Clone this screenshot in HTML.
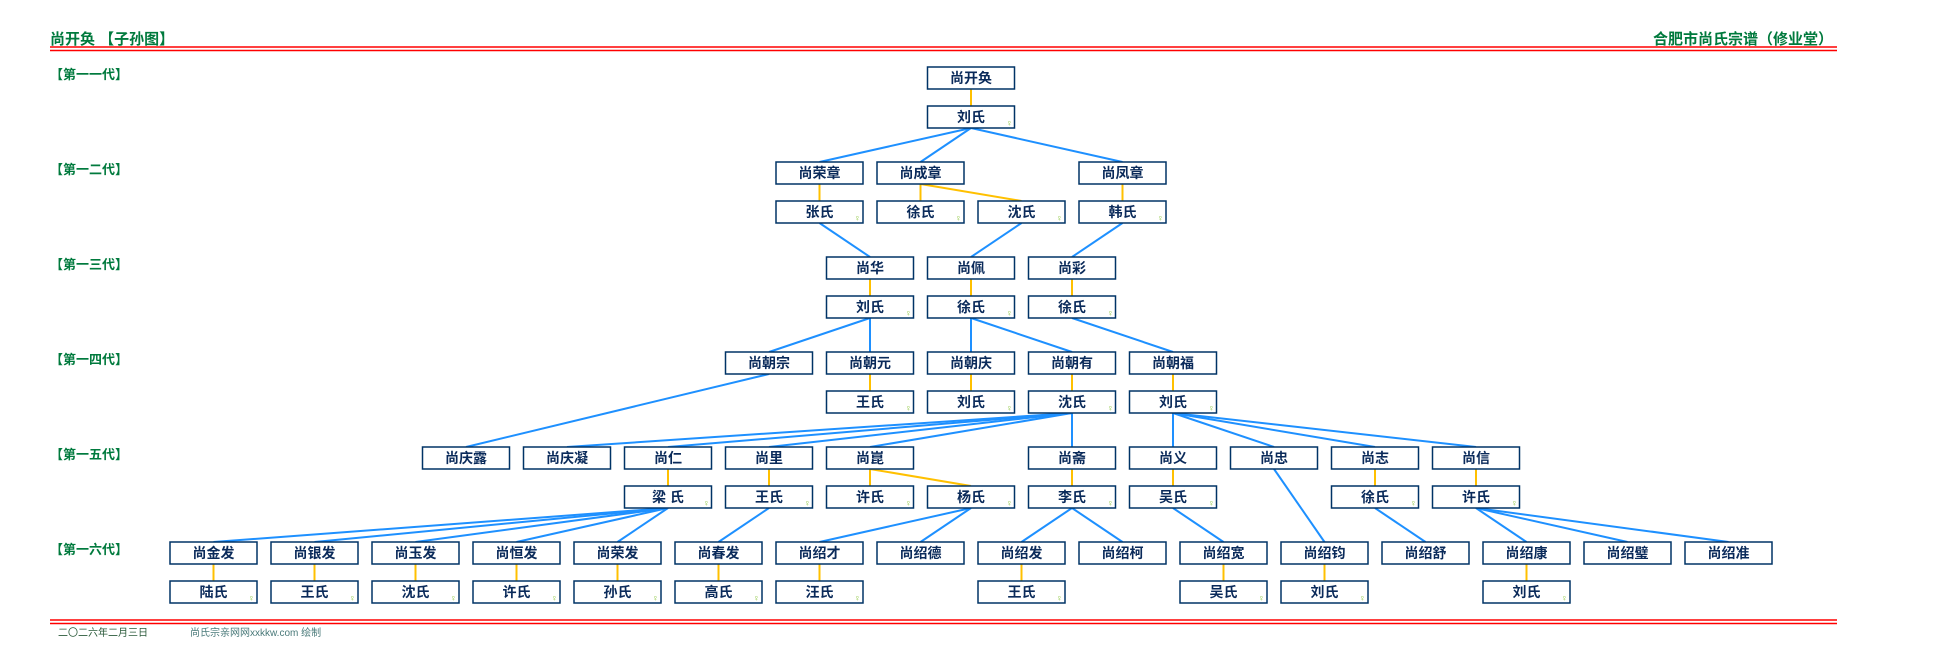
<!DOCTYPE html>
<html><head><meta charset="utf-8"><style>
html,body{margin:0;padding:0;background:#fff;}
svg{display:block;}
.b{fill:#fff;stroke:#003366;stroke-width:1.5;}
.t{font-family:"Liberation Sans","Noto Sans CJK SC",sans-serif;font-size:14px;font-weight:bold;fill:#0a2a5a;text-anchor:middle;}
.f{font-family:"Liberation Sans","Noto Sans CJK SC",sans-serif;font-size:9px;fill:#8cc63f;}
.g{font-family:"Liberation Sans","Noto Sans CJK SC",sans-serif;font-size:14px;font-weight:bold;fill:#007a3d;}
.bl{stroke:#1e90ff;stroke-width:2;fill:none;}
.yl{stroke:#ffc000;stroke-width:2;fill:none;}
</style></head><body>
<svg width="1936" height="670" xmlns="http://www.w3.org/2000/svg">
<text class="g" x="50" y="44" style="font-size:15px">尚开奂 【子孙图】</text>
<text class="g" x="1833" y="44" text-anchor="end" style="font-size:15px">合肥市尚氏宗谱（修业堂）</text>
<line x1="50" y1="47" x2="1837" y2="47" stroke="#f00" stroke-width="1.5"/>
<line x1="50" y1="50.5" x2="1837" y2="50.5" stroke="#f00" stroke-width="1.5"/>
<text class="g" x="50" y="79" style="font-size:13px">【第一一代】</text>
<text class="g" x="50" y="174" style="font-size:13px">【第一二代】</text>
<text class="g" x="50" y="269" style="font-size:13px">【第一三代】</text>
<text class="g" x="50" y="364" style="font-size:13px">【第一四代】</text>
<text class="g" x="50" y="459" style="font-size:13px">【第一五代】</text>
<text class="g" x="50" y="554" style="font-size:13px">【第一六代】</text>
<line x1="50" y1="620" x2="1837" y2="620" stroke="#f00" stroke-width="1.5"/>
<line x1="50" y1="623.5" x2="1837" y2="623.5" stroke="#f00" stroke-width="1.5"/>
<text x="58" y="636" style="font-family:'Liberation Sans','Noto Sans CJK SC',sans-serif;font-size:10px;fill:#2a5a3a">二〇二六年二月三日</text>
<text x="190" y="636" style="font-family:'Liberation Sans','Noto Sans CJK SC',sans-serif;font-size:10px;fill:#4a7a7a">尚氏宗亲网网xxkkw.com 绘制</text>

<!-- yellow lines -->
<g class="yl">
<line x1="971" y1="89" x2="971" y2="106"/>
<line x1="819.5" y1="184" x2="819.5" y2="201"/>
<line x1="920.5" y1="184" x2="920.5" y2="201"/>
<line x1="920.5" y1="184" x2="1021.5" y2="201"/>
<line x1="1122.5" y1="184" x2="1122.5" y2="201"/>
<line x1="870" y1="279" x2="870" y2="296"/>
<line x1="971" y1="279" x2="971" y2="296"/>
<line x1="1072" y1="279" x2="1072" y2="296"/>
<line x1="870" y1="374" x2="870" y2="391"/>
<line x1="971" y1="374" x2="971" y2="391"/>
<line x1="1072" y1="374" x2="1072" y2="391"/>
<line x1="1173" y1="374" x2="1173" y2="391"/>
<line x1="668" y1="469" x2="668" y2="486"/>
<line x1="769" y1="469" x2="769" y2="486"/>
<line x1="870" y1="469" x2="870" y2="486"/>
<line x1="870" y1="469" x2="971" y2="486"/>
<line x1="1072" y1="469" x2="1072" y2="486"/>
<line x1="1173" y1="469" x2="1173" y2="486"/>
<line x1="1375" y1="469" x2="1375" y2="486"/>
<line x1="1476" y1="469" x2="1476" y2="486"/>
<line x1="213.5" y1="564" x2="213.5" y2="581"/>
<line x1="314.5" y1="564" x2="314.5" y2="581"/>
<line x1="415.5" y1="564" x2="415.5" y2="581"/>
<line x1="516.5" y1="564" x2="516.5" y2="581"/>
<line x1="617.5" y1="564" x2="617.5" y2="581"/>
<line x1="718.5" y1="564" x2="718.5" y2="581"/>
<line x1="819.5" y1="564" x2="819.5" y2="581"/>
<line x1="1021.5" y1="564" x2="1021.5" y2="581"/>
<line x1="1223.5" y1="564" x2="1223.5" y2="581"/>
<line x1="1324.5" y1="564" x2="1324.5" y2="581"/>
<line x1="1526.5" y1="564" x2="1526.5" y2="581"/>
</g>
<!-- blue lines -->
<g class="bl">
<line x1="971" y1="128" x2="819.5" y2="162"/>
<line x1="971" y1="128" x2="920.5" y2="162"/>
<line x1="971" y1="128" x2="1122.5" y2="162"/>
<line x1="819.5" y1="223" x2="870" y2="257"/>
<line x1="1021.5" y1="223" x2="971" y2="257"/>
<line x1="1122.5" y1="223" x2="1072" y2="257"/>
<line x1="870" y1="318" x2="769" y2="352"/>
<line x1="870" y1="318" x2="870" y2="352"/>
<line x1="971" y1="318" x2="971" y2="352"/>
<line x1="971" y1="318" x2="1072" y2="352"/>
<line x1="1072" y1="318" x2="1173" y2="352"/>
<line x1="769" y1="374" x2="466" y2="447"/>
<line x1="1072" y1="413" x2="567" y2="447"/>
<line x1="1072" y1="413" x2="668" y2="447"/>
<line x1="1072" y1="413" x2="769" y2="447"/>
<line x1="1072" y1="413" x2="870" y2="447"/>
<line x1="1072" y1="413" x2="1072" y2="447"/>
<line x1="1173" y1="413" x2="1173" y2="447"/>
<line x1="1173" y1="413" x2="1274" y2="447"/>
<line x1="1173" y1="413" x2="1375" y2="447"/>
<line x1="1173" y1="413" x2="1476" y2="447"/>
<line x1="668" y1="508" x2="213.5" y2="542"/>
<line x1="668" y1="508" x2="314.5" y2="542"/>
<line x1="668" y1="508" x2="415.5" y2="542"/>
<line x1="668" y1="508" x2="516.5" y2="542"/>
<line x1="668" y1="508" x2="617.5" y2="542"/>
<line x1="769" y1="508" x2="718.5" y2="542"/>
<line x1="971" y1="508" x2="819.5" y2="542"/>
<line x1="971" y1="508" x2="920.5" y2="542"/>
<line x1="1072" y1="508" x2="1021.5" y2="542"/>
<line x1="1072" y1="508" x2="1122.5" y2="542"/>
<line x1="1173" y1="508" x2="1223.5" y2="542"/>
<line x1="1274" y1="469" x2="1324.5" y2="542"/>
<line x1="1375" y1="508" x2="1425.5" y2="542"/>
<line x1="1476" y1="508" x2="1526.5" y2="542"/>
<line x1="1476" y1="508" x2="1627.5" y2="542"/>
<line x1="1476" y1="508" x2="1728.5" y2="542"/>
</g>

<!-- boxes: rect x=left, text at cx -->
<g>
<!-- gen1 -->
<rect class="b" x="927.5" y="67" width="87" height="22"/><text class="t" x="971" y="83">尚开奂</text>
<rect class="b" x="927.5" y="106" width="87" height="22"/><text class="t" x="971" y="122">刘氏</text><text class="f" x="1006" y="126">♀</text>
<!-- gen2 -->
<rect class="b" x="776" y="162" width="87" height="22"/><text class="t" x="819.5" y="178">尚荣章</text>
<rect class="b" x="877" y="162" width="87" height="22"/><text class="t" x="920.5" y="178">尚成章</text>
<rect class="b" x="1079" y="162" width="87" height="22"/><text class="t" x="1122.5" y="178">尚凤章</text>
<rect class="b" x="776" y="201" width="87" height="22"/><text class="t" x="819.5" y="217">张氏</text><text class="f" x="854" y="221">♀</text>
<rect class="b" x="877" y="201" width="87" height="22"/><text class="t" x="920.5" y="217">徐氏</text><text class="f" x="955" y="221">♀</text>
<rect class="b" x="978" y="201" width="87" height="22"/><text class="t" x="1021.5" y="217">沈氏</text><text class="f" x="1056" y="221">♀</text>
<rect class="b" x="1079" y="201" width="87" height="22"/><text class="t" x="1122.5" y="217">韩氏</text><text class="f" x="1157" y="221">♀</text>
<!-- gen3 -->
<rect class="b" x="826.5" y="257" width="87" height="22"/><text class="t" x="870" y="273">尚华</text>
<rect class="b" x="927.5" y="257" width="87" height="22"/><text class="t" x="971" y="273">尚佩</text>
<rect class="b" x="1028.5" y="257" width="87" height="22"/><text class="t" x="1072" y="273">尚彩</text>
<rect class="b" x="826.5" y="296" width="87" height="22"/><text class="t" x="870" y="312">刘氏</text><text class="f" x="905" y="316">♀</text>
<rect class="b" x="927.5" y="296" width="87" height="22"/><text class="t" x="971" y="312">徐氏</text><text class="f" x="1006" y="316">♀</text>
<rect class="b" x="1028.5" y="296" width="87" height="22"/><text class="t" x="1072" y="312">徐氏</text><text class="f" x="1107" y="316">♀</text>
<!-- gen4 -->
<rect class="b" x="725.5" y="352" width="87" height="22"/><text class="t" x="769" y="368">尚朝宗</text>
<rect class="b" x="826.5" y="352" width="87" height="22"/><text class="t" x="870" y="368">尚朝元</text>
<rect class="b" x="927.5" y="352" width="87" height="22"/><text class="t" x="971" y="368">尚朝庆</text>
<rect class="b" x="1028.5" y="352" width="87" height="22"/><text class="t" x="1072" y="368">尚朝有</text>
<rect class="b" x="1129.5" y="352" width="87" height="22"/><text class="t" x="1173" y="368">尚朝福</text>
<rect class="b" x="826.5" y="391" width="87" height="22"/><text class="t" x="870" y="407">王氏</text><text class="f" x="905" y="411">♀</text>
<rect class="b" x="927.5" y="391" width="87" height="22"/><text class="t" x="971" y="407">刘氏</text><text class="f" x="1006" y="411">♀</text>
<rect class="b" x="1028.5" y="391" width="87" height="22"/><text class="t" x="1072" y="407">沈氏</text><text class="f" x="1107" y="411">♀</text>
<rect class="b" x="1129.5" y="391" width="87" height="22"/><text class="t" x="1173" y="407">刘氏</text><text class="f" x="1208" y="411">♀</text>
<!-- gen5 -->
<rect class="b" x="422.5" y="447" width="87" height="22"/><text class="t" x="466" y="463">尚庆露</text>
<rect class="b" x="523.5" y="447" width="87" height="22"/><text class="t" x="567" y="463">尚庆凝</text>
<rect class="b" x="624.5" y="447" width="87" height="22"/><text class="t" x="668" y="463">尚仁</text>
<rect class="b" x="725.5" y="447" width="87" height="22"/><text class="t" x="769" y="463">尚里</text>
<rect class="b" x="826.5" y="447" width="87" height="22"/><text class="t" x="870" y="463">尚崑</text>
<rect class="b" x="1028.5" y="447" width="87" height="22"/><text class="t" x="1072" y="463">尚斋</text>
<rect class="b" x="1129.5" y="447" width="87" height="22"/><text class="t" x="1173" y="463">尚义</text>
<rect class="b" x="1230.5" y="447" width="87" height="22"/><text class="t" x="1274" y="463">尚忠</text>
<rect class="b" x="1331.5" y="447" width="87" height="22"/><text class="t" x="1375" y="463">尚志</text>
<rect class="b" x="1432.5" y="447" width="87" height="22"/><text class="t" x="1476" y="463">尚信</text>
<rect class="b" x="624.5" y="486" width="87" height="22"/><text class="t" x="668" y="502">梁 氏</text><text class="f" x="703" y="506">♀</text>
<rect class="b" x="725.5" y="486" width="87" height="22"/><text class="t" x="769" y="502">王氏</text><text class="f" x="804" y="506">♀</text>
<rect class="b" x="826.5" y="486" width="87" height="22"/><text class="t" x="870" y="502">许氏</text><text class="f" x="905" y="506">♀</text>
<rect class="b" x="927.5" y="486" width="87" height="22"/><text class="t" x="971" y="502">杨氏</text><text class="f" x="1006" y="506">♀</text>
<rect class="b" x="1028.5" y="486" width="87" height="22"/><text class="t" x="1072" y="502">李氏</text><text class="f" x="1107" y="506">♀</text>
<rect class="b" x="1129.5" y="486" width="87" height="22"/><text class="t" x="1173" y="502">吴氏</text><text class="f" x="1208" y="506">♀</text>
<rect class="b" x="1331.5" y="486" width="87" height="22"/><text class="t" x="1375" y="502">徐氏</text><text class="f" x="1410" y="506">♀</text>
<rect class="b" x="1432.5" y="486" width="87" height="22"/><text class="t" x="1476" y="502">许氏</text><text class="f" x="1511" y="506">♀</text>
<!-- gen6 -->
<rect class="b" x="170" y="542" width="87" height="22"/><text class="t" x="213.5" y="558">尚金发</text>
<rect class="b" x="271" y="542" width="87" height="22"/><text class="t" x="314.5" y="558">尚银发</text>
<rect class="b" x="372" y="542" width="87" height="22"/><text class="t" x="415.5" y="558">尚玉发</text>
<rect class="b" x="473" y="542" width="87" height="22"/><text class="t" x="516.5" y="558">尚恒发</text>
<rect class="b" x="574" y="542" width="87" height="22"/><text class="t" x="617.5" y="558">尚荣发</text>
<rect class="b" x="675" y="542" width="87" height="22"/><text class="t" x="718.5" y="558">尚春发</text>
<rect class="b" x="776" y="542" width="87" height="22"/><text class="t" x="819.5" y="558">尚绍才</text>
<rect class="b" x="877" y="542" width="87" height="22"/><text class="t" x="920.5" y="558">尚绍德</text>
<rect class="b" x="978" y="542" width="87" height="22"/><text class="t" x="1021.5" y="558">尚绍发</text>
<rect class="b" x="1079" y="542" width="87" height="22"/><text class="t" x="1122.5" y="558">尚绍柯</text>
<rect class="b" x="1180" y="542" width="87" height="22"/><text class="t" x="1223.5" y="558">尚绍宽</text>
<rect class="b" x="1281" y="542" width="87" height="22"/><text class="t" x="1324.5" y="558">尚绍钧</text>
<rect class="b" x="1382" y="542" width="87" height="22"/><text class="t" x="1425.5" y="558">尚绍舒</text>
<rect class="b" x="1483" y="542" width="87" height="22"/><text class="t" x="1526.5" y="558">尚绍康</text>
<rect class="b" x="1584" y="542" width="87" height="22"/><text class="t" x="1627.5" y="558">尚绍璧</text>
<rect class="b" x="1685" y="542" width="87" height="22"/><text class="t" x="1728.5" y="558">尚绍准</text>
<rect class="b" x="170" y="581" width="87" height="22"/><text class="t" x="213.5" y="597">陆氏</text><text class="f" x="248" y="601">♀</text>
<rect class="b" x="271" y="581" width="87" height="22"/><text class="t" x="314.5" y="597">王氏</text><text class="f" x="349" y="601">♀</text>
<rect class="b" x="372" y="581" width="87" height="22"/><text class="t" x="415.5" y="597">沈氏</text><text class="f" x="450" y="601">♀</text>
<rect class="b" x="473" y="581" width="87" height="22"/><text class="t" x="516.5" y="597">许氏</text><text class="f" x="551" y="601">♀</text>
<rect class="b" x="574" y="581" width="87" height="22"/><text class="t" x="617.5" y="597">孙氏</text><text class="f" x="652" y="601">♀</text>
<rect class="b" x="675" y="581" width="87" height="22"/><text class="t" x="718.5" y="597">高氏</text><text class="f" x="753" y="601">♀</text>
<rect class="b" x="776" y="581" width="87" height="22"/><text class="t" x="819.5" y="597">汪氏</text><text class="f" x="854" y="601">♀</text>
<rect class="b" x="978" y="581" width="87" height="22"/><text class="t" x="1021.5" y="597">王氏</text><text class="f" x="1056" y="601">♀</text>
<rect class="b" x="1180" y="581" width="87" height="22"/><text class="t" x="1223.5" y="597">吴氏</text><text class="f" x="1258" y="601">♀</text>
<rect class="b" x="1281" y="581" width="87" height="22"/><text class="t" x="1324.5" y="597">刘氏</text><text class="f" x="1359" y="601">♀</text>
<rect class="b" x="1483" y="581" width="87" height="22"/><text class="t" x="1526.5" y="597">刘氏</text><text class="f" x="1561" y="601">♀</text>
</g>
</svg>
</body></html>
